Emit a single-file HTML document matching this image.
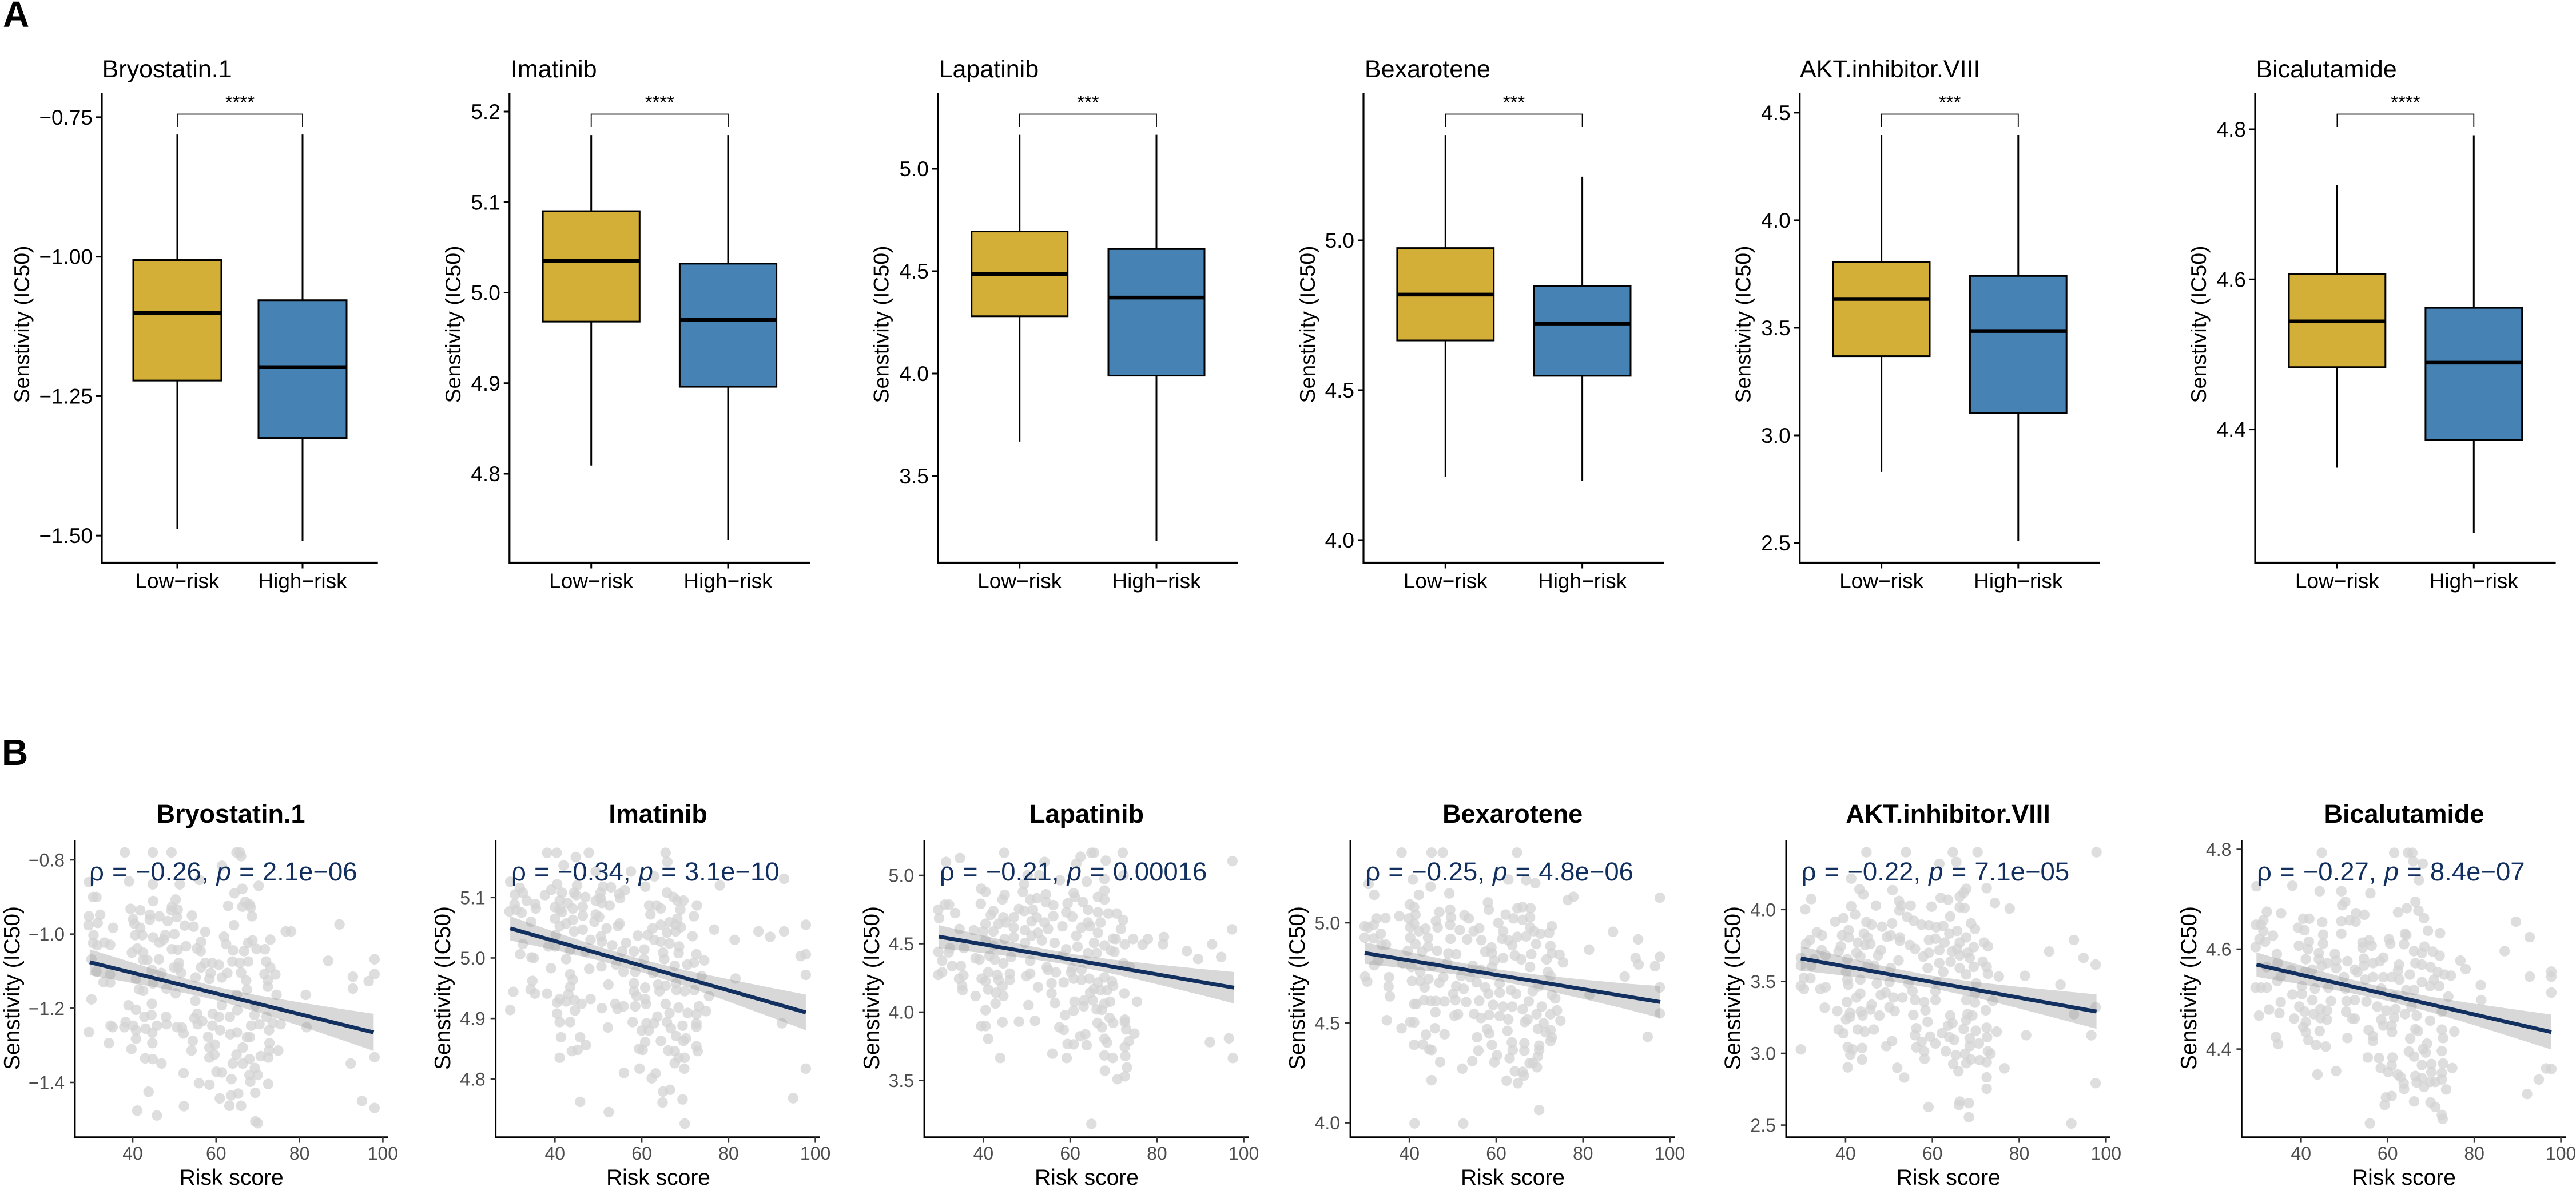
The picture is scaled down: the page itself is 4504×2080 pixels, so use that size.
<!DOCTYPE html>
<html lang="en">
<head>
<meta charset="utf-8">
<title>Drug sensitivity by risk group</title>
<style>
html,body{margin:0;padding:0;background:#fff}
svg{display:block}
text{font-family:"Liberation Sans",sans-serif}
.ptitle{font-size:43px;fill:#000}
.ytA{font-size:37.5px;fill:#000;text-anchor:middle}
.stars{font-size:33px;fill:#000;text-anchor:middle}
.btitle{font-size:45px;font-weight:bold;fill:#000;text-anchor:middle}
.ytB{font-size:39px;fill:#000;text-anchor:middle}
.xtB{font-size:39px;fill:#000;text-anchor:middle}
.anno{font-size:45.5px;fill:#12305f;word-spacing:1.5px}
.anno tspan{font-style:italic}
.letter{font-size:64px;font-weight:bold;fill:#000}
</style>
</head>
<body>
<svg id="figure" xmlns="http://www.w3.org/2000/svg" width="4504" height="2080" viewBox="0 0 4504 2080">
<rect width="4504" height="2080" fill="#fff"/>
<g id="marks"></g>
<g id="static-text">
<text class="letter" x="5" y="47">A</text>
<text class="letter" x="3" y="1337">B</text>

<text class="ptitle" x="178.6" y="135">Bryostatin.1</text>
<text class="ptitle" x="893" y="135">Imatinib</text>
<text class="ptitle" x="1641.6" y="135">Lapatinib</text>
<text class="ptitle" x="2386" y="135">Bexarotene</text>
<text class="ptitle" x="3147" y="135">AKT.inhibitor.VIII</text>
<text class="ptitle" x="3944.5" y="135">Bicalutamide</text>

<text class="ytA" transform="translate(51,567) rotate(-90)">Senstivity (IC50)</text>
<text class="ytA" transform="translate(805,567) rotate(-90)">Senstivity (IC50)</text>
<text class="ytA" transform="translate(1553.7,567) rotate(-90)">Senstivity (IC50)</text>
<text class="ytA" transform="translate(2299,567) rotate(-90)">Senstivity (IC50)</text>
<text class="ytA" transform="translate(3060.5,567) rotate(-90)">Senstivity (IC50)</text>
<text class="ytA" transform="translate(3857,567) rotate(-90)">Senstivity (IC50)</text>

<text class="stars" x="419.5" y="190">****</text>
<text class="stars" x="1153.4" y="190">****</text>
<text class="stars" x="1902.4" y="190">***</text>
<text class="stars" x="2647" y="190">***</text>
<text class="stars" x="3409.2" y="190">***</text>
<text class="stars" x="4205.9" y="190">****</text>

<text class="btitle" x="403.5" y="1438">Bryostatin.1</text>
<text class="btitle" x="1150.6" y="1438">Imatinib</text>
<text class="btitle" x="1900" y="1438">Lapatinib</text>
<text class="btitle" x="2644.7" y="1438">Bexarotene</text>
<text class="btitle" x="3406" y="1438">AKT.inhibitor.VIII</text>
<text class="btitle" x="4203.5" y="1438">Bicalutamide</text>

<text class="ytB" transform="translate(34,1727) rotate(-90)">Senstivity (IC50)</text>
<text class="ytB" transform="translate(787,1727) rotate(-90)">Senstivity (IC50)</text>
<text class="ytB" transform="translate(1537,1727) rotate(-90)">Senstivity (IC50)</text>
<text class="ytB" transform="translate(2281,1727) rotate(-90)">Senstivity (IC50)</text>
<text class="ytB" transform="translate(3042.5,1727) rotate(-90)">Senstivity (IC50)</text>
<text class="ytB" transform="translate(3840,1727) rotate(-90)">Senstivity (IC50)</text>

<text class="xtB" x="404.7" y="2071">Risk score</text>
<text class="xtB" x="1151" y="2071">Risk score</text>
<text class="xtB" x="1900" y="2071">Risk score</text>
<text class="xtB" x="2645" y="2071">Risk score</text>
<text class="xtB" x="3406.8" y="2071">Risk score</text>
<text class="xtB" x="4203" y="2071">Risk score</text>

<text class="anno" x="156" y="1539">ρ = −0.26, <tspan>p</tspan> = 2.1e−06</text>
<text class="anno" x="894" y="1539">ρ = −0.34, <tspan>p</tspan> = 3.1e−10</text>
<text class="anno" x="1643" y="1539">ρ = −0.21, <tspan>p</tspan> = 0.00016</text>
<text class="anno" x="2387.4" y="1539">ρ = −0.25, <tspan>p</tspan> = 4.8e−06</text>
<text class="anno" x="3149.6" y="1539">ρ = −0.22, <tspan>p</tspan> = 7.1e−05</text>
<text class="anno" x="3946" y="1539">ρ = −0.27, <tspan>p</tspan> = 8.4e−07</text>
</g>
</svg>
<script>
// ---- Box plot data: [min, q1, median, q3, max] ----
const boxCategories = ['Low−risk', 'High−risk'];
const bryostatinLow = [-1.488, -1.222, -1.101, -1.006, -0.781];
const bryostatinHigh = [-1.509, -1.325, -1.198, -1.078, -0.781];
const imatinibLow = [4.809, 4.968, 5.035, 5.090, 5.174];
const imatinibHigh = [4.727, 4.896, 4.970, 5.032, 5.174];
const lapatinibLow = [3.668, 4.280, 4.486, 4.694, 5.166];
const lapatinibHigh = [3.184, 3.990, 4.371, 4.608, 5.166];
const bexaroteneLow = [4.211, 4.666, 4.819, 4.974, 5.351];
const bexaroteneHigh = [4.197, 4.548, 4.722, 4.847, 5.212];
const aktLow = [2.830, 3.368, 3.634, 3.806, 4.396];
const aktHigh = [2.508, 3.103, 3.485, 3.741, 4.396];
const bicalutamideLow = [4.349, 4.483, 4.544, 4.607, 4.726];
const bicalutamideHigh = [4.262, 4.386, 4.489, 4.562, 4.792];

// ---- Tick labels ----
const bryostatinBoxTicks = ['−0.75', '−1.00', '−1.25', '−1.50'];
const imatinibBoxTicks = ['5.2', '5.1', '5.0', '4.9', '4.8'];
const lapatinibBoxTicks = ['5.0', '4.5', '4.0', '3.5'];
const bexaroteneBoxTicks = ['5.0', '4.5', '4.0'];
const aktBoxTicks = ['4.5', '4.0', '3.5', '3.0', '2.5'];
const bicalutamideBoxTicks = ['4.8', '4.6', '4.4'];
const riskTicks = ['40', '60', '80', '100'];
const bryostatinScatterTicks = ['−0.8', '−1.0', '−1.2', '−1.4'];
const imatinibScatterTicks = ['5.1', '5.0', '4.9', '4.8'];
const lapatinibScatterTicks = ['5.0', '4.5', '4.0', '3.5'];
const bexaroteneScatterTicks = ['5.0', '4.5', '4.0'];
const aktScatterTicks = ['4.0', '3.5', '3.0', '2.5'];
const bicalutamideScatterTicks = ['4.8', '4.6', '4.4'];

// ---- Regression fits: value at first and last band station; band half-widths at stations ----
const bandRisk = [29.7, 40, 50, 60, 70, 80, 90, 97.8];
const bryostatinFit = [-1.076, -1.265];
const bryostatinBand = [.035, .0276, .0205, .018, .0225, .0316, .0416, .05];
const imatinibFit = [5.049, 4.910];
const imatinibBand = [.020, .015, .0115, .0106, .013, .0185, .0245, .0295];
const lapatinibFit = [4.552, 4.178];
const lapatinibBand = [.084, .064, .047, .041, .052, .072, .095, .115];
const bexaroteneFit = [4.849, 4.604];
const bexaroteneBand = [.054, .042, .032, .028, .035, .048, .064, .08];
const aktFit = [3.66, 3.29];
const aktBand = [.085, .065, .048, .043, .054, .075, .1, .12];
const bicalutamideFit = [4.569, 4.434];
const bicalutamideBand = [.0245, .019, .014, .0125, .0155, .0215, .029, .035];

// ---- Scatter points: [risk score, IC50] ----
const bryostatinPoints = [[38.1,-.78],[44.8,-.78],[49.3,-.78],[64.9,-.78],[65.7,-.78],[66,-.79],[29.5,-.86],[39.1,-.858],[44.8,-.866],[51.3,-.866],[56,-.854],[61.4,-.816],[70.2,-.87],[66.3,-.878],[64.4,-.89],[30.5,-.9],[31.3,-.9],[44.9,-.911],[50.3,-.907],[62.9,-.924],[67,-.913],[66.3,-.926],[68,-.92],[68.3,-.928],[68.6,-.952],[39.5,-.932],[41.8,-.936],[49.4,-.926],[50.8,-.934],[49.3,-.936],[32.2,-.948],[29.5,-.952],[29.4,-.976],[31.6,-.97],[35.3,-.983],[40.1,-.96],[40.4,-.972],[44.1,-.948],[44.1,-.961],[46.4,-.952],[48.4,-.965],[50.6,-.954],[52.5,-.977],[54.6,-.98],[54.2,-.95],[64.3,-.976],[89.6,-.974],[76.7,-.993],[78,-.993],[30.6,-1.003],[30.5,-1.024],[31.5,-1.03],[33.2,-1.023],[34.6,-1.029],[40.6,-1.003],[41.8,-.983],[42.3,-1.003],[44.9,-1.009],[47.8,-1.003],[47.4,-1.015],[46.4,-1.023],[50,-1],[57.4,-.994],[61.9,-1.007],[62.4,-1.027],[68.7,-1.017],[67.7,-1.024],[73,-1.015],[71.7,-1.041],[86.9,-1.072],[98,-1.068],[98,-1.108],[92.8,-1.115],[96.6,-1.127],[92.8,-1.147],[81.5,-1.164],[81.7,-1.251],[98,-1.332],[92.3,-1.349],[95,-1.45],[98,-1.469],[39.8,-1.05],[41.1,-1.039],[42.5,-1.05],[49.4,-1.041],[50.8,-1.042],[52.8,-1.033],[55.4,-1.039],[56.4,-1.021],[56.3,-1.046],[64.1,-1.044],[66.7,-1.046],[69.7,-1.04],[30.1,-1.068],[42.5,-1.07],[43.5,-1.07],[46.3,-1.068],[51.1,-1.078],[57.4,-1.078],[59.1,-1.078],[60.7,-1.083],[63.9,-1.074],[65.7,-1.078],[67.7,-1.074],[72,-1.074],[73,-1.09],[31.3,-1.101],[34.6,-1.109],[40.8,-1.121],[44.6,-1.097],[46.9,-1.105],[49.9,-1.09],[50.9,-1.09],[51.6,-1.105],[56.4,-1.09],[58.7,-1.105],[62.7,-1.105],[66,-1.104],[71.6,-1.108],[74.2,-1.109],[72.4,-1.125],[33,-1.13],[34.6,-1.131],[41.5,-1.149],[42.5,-1.153],[44.8,-1.133],[48.1,-1.147],[50.3,-1.16],[55.1,-1.117],[58.4,-1.121],[61.4,-1.117],[67.2,-1.125],[67.4,-1.15],[72.4,-1.142],[74.5,-1.164],[30.1,-1.176],[39,-1.192],[40.8,-1.204],[44.6,-1.188],[55,-1.18],[61.4,-1.192],[65,-1.164],[65.1,-1.205],[69.4,-1.192],[42.8,-1.223],[44.5,-1.218],[48,-1.223],[55.5,-1.215],[54.8,-1.227],[59.2,-1.215],[60.7,-1.223],[63.3,-1.223],[69.2,-1.218],[72.1,-1.223],[73.6,-1.239],[75.5,-1.243],[34.7,-1.247],[35.2,-1.251],[38.3,-1.237],[38,-1.251],[40.1,-1.247],[40.8,-1.259],[43.1,-1.255],[45.8,-1.247],[48.1,-1.243],[50.6,-1.251],[51.8,-1.252],[55.6,-1.243],[56.7,-1.235],[59.1,-1.247],[61,-1.259],[68.4,-1.247],[70.4,-1.243],[72.7,-1.259],[29.5,-1.264],[44.7,-1.266],[52.2,-1.268],[63.4,-1.27],[65,-1.265],[67.4,-1.278],[68.1,-1.278],[34.3,-1.294],[40.8,-1.282],[44.7,-1.294],[54.4,-1.288],[58.1,-1.277],[59.7,-1.298],[72.8,-1.294],[74.9,-1.314],[39.7,-1.31],[54.1,-1.314],[58.4,-1.306],[66.4,-1.306],[72.7,-1.314],[43,-1.335],[44.8,-1.337],[46.9,-1.349],[58.4,-1.333],[59.6,-1.325],[64.9,-1.325],[68,-1.337],[70.7,-1.329],[72.5,-1.333],[64,-1.349],[66.4,-1.349],[69.3,-1.361],[52.2,-1.375],[60.1,-1.371],[61.4,-1.373],[63.7,-1.391],[68,-1.38],[70,-1.38],[68.2,-1.398],[72.5,-1.404],[55.9,-1.402],[58.4,-1.406],[43.8,-1.425],[69.4,-1.428],[63.6,-1.435],[60.9,-1.443],[65.3,-1.43],[63.2,-1.463],[66,-1.463],[52.3,-1.464],[41.1,-1.476],[45.8,-1.489],[69.4,-1.505],[70,-1.51]];

const imatinibPoints = [[38.2,5.174],[40.4,5.174],[47.8,5.174],[65.5,5.174],[44.8,5.167],[65.9,5.159],[42,5.153],[57.5,5.143],[49.4,5.143],[62.9,5.135],[29.7,5.126],[92.8,5.131],[40.5,5.122],[45.1,5.12],[51.1,5.118],[52.9,5.117],[60.8,5.118],[78,5.12],[31.9,5.116],[32.6,5.108],[30.8,5.105],[33.5,5.095],[30.7,5.089],[29.5,5.077],[31.1,5.08],[32.3,5.075],[35.5,5.089],[35.6,5.082],[34.5,5.06],[37.7,5.104],[39.2,5.113],[41.6,5.108],[44.4,5.108],[44.9,5.104],[47,5.101],[50.5,5.108],[50.5,5.099],[49.4,5.095],[50.8,5.091],[52.6,5.087],[54.8,5.106],[56.1,5.112],[55,5.099],[46.4,5.085],[41.1,5.095],[40,5.084],[41.1,5.08],[42.9,5.091],[44.1,5.082],[41.6,5.076],[46.4,5.07],[40,5.065],[44.1,5.063],[49.4,5.072],[50.2,5.068],[49.1,5.06],[41.1,5.053],[42.6,5.057],[46.4,5.047],[44.4,5.044],[40.2,5.038],[51.9,5.049],[50.6,5.036],[54.5,5.053],[54.9,5.057],[59.1,5.037],[61.4,5.038],[62.5,5.049],[61.7,5.087],[63.4,5.087],[62,5.072],[64.4,5.082],[64.4,5.055],[65.8,5.108],[67.3,5.101],[68.2,5.095],[69.6,5.095],[68.9,5.08],[72.7,5.087],[72,5.069],[68.2,5.065],[66.4,5.059],[67.8,5.055],[69,5.051],[67.8,5.044],[65.8,5.042],[71.7,5.036],[76.7,5.047],[86.9,5.044],[89.6,5.035],[92.8,5.044],[97.8,5.055],[81.4,5.03],[96.6,5.003],[97.8,5.006],[97.8,4.972],[81.6,4.966],[62.9,5.03],[64.4,5.027],[66.4,5.024],[68.6,5.019],[56.4,5.025],[53.2,5.021],[50.8,5.027],[48.2,5.03],[38.5,5.019],[40,5.019],[32.6,5.023],[32,5.006],[34.6,5.001],[35.1,5],[43.5,5.013],[47,5.011],[55.5,5.011],[58.2,5.011],[60.6,5.014],[64.9,5.009],[68.5,5.008],[72.6,5.006],[42.6,4.998],[47.9,4.982],[50.7,4.986],[54.1,4.989],[60.5,4.998],[65.2,4.998],[74.4,4.996],[72,4.992],[70.5,4.989],[67.6,4.987],[39.1,4.983],[55.8,4.977],[58.5,4.977],[62.6,4.975],[73.8,4.97],[43.5,4.973],[44.1,4.964],[34.8,4.962],[52.3,4.956],[67.9,4.958],[63.8,4.956],[58.2,4.958],[60.8,4.951],[65.5,4.954],[34.4,4.948],[43.5,4.952],[30.4,4.944],[35.4,4.941],[38.2,4.941],[58.2,4.945],[64.1,4.945],[68,4.947],[69.9,4.945],[72.1,4.947],[75.5,4.937],[43.1,4.94],[48.2,4.932],[41.1,4.932],[44.5,4.93],[42.6,4.928],[58.8,4.937],[60.8,4.932],[40.5,4.926],[46.1,4.924],[53.9,4.924],[65.5,4.924],[73.2,4.92],[44.6,4.913],[29.7,4.914],[50.8,4.917],[54.4,4.916],[55.8,4.92],[58.5,4.92],[61,4.924],[68.5,4.918],[74.8,4.912],[66.4,4.909],[70.6,4.909],[72.6,4.907],[40.5,4.908],[63.6,4.903],[41.1,4.894],[43.5,4.894],[57.9,4.894],[61.1,4.892],[62.8,4.892],[65.8,4.894],[69.4,4.888],[72.6,4.892],[52.2,4.885],[66.7,4.884],[60,4.88],[61.6,4.88],[72.6,4.886],[67.9,4.871],[70.2,4.867],[69.6,4.863],[64.4,4.863],[60.8,4.861],[41.4,4.869],[45.8,4.869],[47.1,4.856],[59.4,4.85],[60.2,4.848],[72.6,4.854],[72.9,4.846],[66.1,4.847],[67.6,4.846],[43.9,4.846],[45.2,4.848],[41.1,4.835],[68.5,4.835],[69.9,4.835],[67.6,4.826],[59.5,4.817],[69.8,4.817],[97.8,4.817],[55.9,4.81],[63.2,4.809],[62.3,4.801],[64.9,4.779],[66.5,4.782],[69.4,4.766],[94.9,4.768],[64.8,4.761],[45.8,4.762],[52.4,4.745],[69.9,4.726],[92.3,4.892]];

const lapatinibPoints = [[44.8,5.165],[64.9,5.165],[65.5,5.165],[72.1,5.165],[34.6,5.126],[31.4,5.098],[62.4,5.136],[68.2,5.107],[61.4,5.085],[54.1,5.098],[97.4,5.104],[50.2,5],[52.9,5],[57.6,4.964],[63.8,4.954],[67.9,4.973],[72.3,5],[49.4,4.936],[67.9,4.889],[39.5,4.902],[40.5,4.879],[49.1,4.879],[60.8,4.87],[44.9,4.857],[44.4,4.823],[50.8,4.823],[52.3,4.833],[54.4,4.861],[54.4,4.805],[61.1,4.842],[66.4,4.842],[67.9,4.823],[62.9,4.805],[39.4,4.792],[56.1,4.782],[59.4,4.795],[29.6,4.749],[31.1,4.786],[32.1,4.786],[33.5,4.724],[29.8,4.687],[42.3,4.739],[41.7,4.711],[48.2,4.754],[49.4,4.739],[51.4,4.749],[59.1,4.73],[64.1,4.749],[66.4,4.73],[68.8,4.721],[70.7,4.721],[72.2,4.674],[44.6,4.693],[47,4.693],[52.3,4.693],[56.1,4.702],[60.5,4.698],[40.5,4.646],[43.5,4.646],[45.2,4.655],[51.1,4.664],[54.1,4.655],[64.1,4.655],[67,4.655],[47,4.618],[54.9,4.608],[58.2,4.627],[62.6,4.618],[64.6,4.627],[71.7,4.608],[34.5,4.608],[37.8,4.599],[39.9,4.59],[42.3,4.59],[49.6,4.599],[52.6,4.58],[66.4,4.58],[61.4,4.558],[51.1,4.558],[47,4.547],[44.9,4.534],[40.5,4.524],[69.9,4.537],[70.5,4.534],[74.5,4.534],[77.9,4.534],[81.6,4.549],[81.4,4.496],[72.6,4.496],[76.7,4.493],[65.5,4.506],[53.5,4.524],[56.4,4.506],[49.6,4.506],[42.3,4.487],[35.5,4.468],[32.3,4.468],[29.6,4.44],[32,4.436],[61.7,4.478],[67.9,4.487],[69.4,4.45],[59.1,4.459],[70.2,4.44],[86.9,4.446],[92.7,4.496],[89.5,4.388],[94.8,4.403],[30.5,4.375],[38.2,4.393],[39.1,4.384],[41.4,4.412],[42.6,4.384],[46.4,4.403],[66.1,4.431],[64.1,4.431],[50.8,4.375],[44.6,4.356],[58.2,4.412],[32.8,4.337],[34.8,4.337],[54.6,4.328],[54.9,4.309],[56.7,4.291],[60.5,4.319],[62.6,4.309],[72.3,4.356],[73.8,4.328],[29.6,4.272],[30.5,4.291],[35.4,4.268],[41.1,4.291],[43.2,4.272],[46.1,4.281],[49.9,4.263],[50.8,4.281],[60.2,4.291],[67.9,4.253],[34.4,4.244],[39.6,4.244],[40.5,4.225],[43.5,4.235],[46.1,4.235],[60.8,4.244],[62.6,4.235],[64.4,4.244],[69.6,4.225],[58.5,4.216],[55.7,4.21],[35.1,4.192],[66.4,4.216],[69.9,4.192],[44.4,4.188],[35.2,4.16],[41.1,4.165],[52.6,4.182],[65.5,4.169],[67,4.16],[42.9,4.141],[68.5,4.16],[64.6,4.141],[55.7,4.136],[72.5,4.136],[38.2,4.117],[44.6,4.117],[63.2,4.085],[65.2,4.085],[61,4.076],[69.2,4.076],[75.4,4.076],[42.8,4.063],[50.4,4.051],[56.5,4.066],[63.1,4.042],[67.9,4.061],[40.5,4.014],[66.1,4.02],[60.8,4.01],[67.3,4.016],[58.8,3.978],[69.1,3.958],[72.6,3.945],[72.6,3.926],[39.5,3.898],[40.5,3.898],[44.4,3.926],[48.2,3.93],[51.9,3.936],[69.9,3.921],[66.3,3.921],[67.3,3.889],[57.5,3.889],[58.5,3.87],[72.9,3.874],[74.8,3.842],[41.1,3.805],[62.3,3.823],[63.5,3.838],[67.9,3.805],[68.5,3.777],[73.5,3.786],[92.2,3.78],[96.6,3.808],[59.4,3.767],[60.8,3.764],[63.8,3.758],[72.6,3.745],[55.9,3.696],[43.9,3.664],[59.2,3.664],[67.9,3.683],[69.8,3.664],[72.7,3.679],[97.5,3.664],[68,3.571],[73.1,3.595],[72.6,3.53],[70.9,3.509],[64.9,3.182],[97.3,4.605]];

const bexarotenePoints = [[38.2,5.351],[45.1,5.351],[47.7,5.351],[64.8,5.351],[30.6,5.194],[40.8,5.216],[44.9,5.181],[62.8,5.216],[66.9,5.213],[69,5.198],[31.9,5.14],[42.2,5.14],[49.2,5.147],[76.5,5.114],[77.8,5.13],[97.7,5.126],[58.1,5.102],[58.3,5.066],[40.1,5.092],[41.1,5.079],[46.9,5.054],[49.4,5.066],[49.6,5.028],[64.9,5.073],[66.1,5.079],[67.9,5.073],[37.7,5.034],[39.9,5.022],[41.4,5.041],[34.5,5.024],[32.4,5.022],[46.1,5.009],[52.7,5.038],[53.7,5.022],[62.2,5.041],[64,5.022],[66.1,5.015],[67.8,5.028],[29.7,4.983],[30.5,4.977],[31.8,4.99],[41.1,4.996],[49.4,4.99],[60.5,5],[72.8,4.983],[46.5,4.977],[40.2,4.977],[43.7,4.971],[42.2,4.958],[56.1,4.973],[51.6,4.964],[54.8,4.958],[61.6,4.958],[67.8,4.977],[68.7,4.958],[70.2,4.945],[72.2,4.949],[86.9,4.955],[64.9,4.93],[33.4,4.945],[29.7,4.926],[31.8,4.922],[40.2,4.926],[44.3,4.926],[49.5,4.92],[53.3,4.917],[56.6,4.913],[61.4,4.92],[66.9,4.932],[62.8,4.913],[92.7,4.917],[33.6,4.891],[34.6,4.891],[41.4,4.894],[44.3,4.881],[63.7,4.888],[69.2,4.894],[72.5,4.884],[58.9,4.877],[81.4,4.866],[39.6,4.86],[46.4,4.86],[42.9,4.856],[57.5,4.856],[49,4.847],[50.8,4.843],[59,4.849],[64.3,4.837],[68.1,4.843],[72.8,4.847],[74.6,4.84],[97.7,4.83],[92.1,4.824],[92.8,4.792],[96.6,4.783],[59.6,4.811],[61.6,4.824],[65.8,4.817],[71.6,4.817],[75.4,4.802],[38.4,4.798],[40.5,4.779],[31.9,4.788],[32.8,4.811],[45.2,4.785],[48.7,4.798],[54.6,4.785],[56.4,4.766],[59,4.779],[67.8,4.779],[29.8,4.731],[30.3,4.706],[35.3,4.728],[35.2,4.681],[42.5,4.754],[40.6,4.709],[42.5,4.709],[44.4,4.719],[47.8,4.728],[46.9,4.7],[51.9,4.734],[54,4.728],[55.5,4.702],[57.5,4.677],[60.8,4.696],[71.9,4.754],[72.5,4.734],[89.6,4.731],[97.7,4.677],[69.7,4.681],[63.4,4.664],[64.6,4.645],[68.4,4.658],[50.8,4.683],[52.5,4.67],[50.1,4.645],[43.5,4.677],[35.5,4.632],[58.2,4.645],[60.8,4.651],[72.8,4.639],[73.6,4.622],[81.5,4.641],[43.4,4.613],[44.9,4.609],[46.1,4.609],[48.1,4.607],[50.6,4.613],[53.1,4.604],[56.1,4.61],[41.1,4.594],[41.6,4.594],[59.3,4.59],[61.6,4.581],[63.7,4.581],[66.1,4.568],[67.5,4.607],[70.5,4.581],[74,4.562],[72.5,4.543],[46,4.553],[54.9,4.545],[58.4,4.54],[50.4,4.536],[51.2,4.543],[69.3,4.543],[60.8,4.534],[56.5,4.524],[62.8,4.517],[67.2,4.517],[74.8,4.511],[34.8,4.513],[97.7,4.547],[70.9,4.498],[66.6,4.504],[40.2,4.504],[41.1,4.502],[38.2,4.473],[45.9,4.473],[57.9,4.469],[69.6,4.47],[72.5,4.464],[62.6,4.46],[58.4,4.447],[48.1,4.443],[43.8,4.441],[71.4,4.453],[55.6,4.428],[72.8,4.428],[94.9,4.43],[72.5,4.409],[63.6,4.402],[66.5,4.398],[41.1,4.39],[43.1,4.392],[59,4.39],[69.9,4.386],[44.6,4.367],[45.1,4.364],[55.9,4.361],[63.8,4.364],[66.5,4.361],[69.9,4.364],[60.2,4.338],[63.1,4.323],[69.6,4.332],[47.1,4.304],[54.5,4.309],[59.6,4.303],[67.7,4.298],[68.4,4.3],[69.4,4.278],[52.2,4.271],[64.3,4.258],[66.1,4.255],[66.4,4.236],[45.1,4.213],[62.4,4.211],[65,4.198],[69.9,4.064],[41.2,3.997],[52.4,3.996]];

const aktPoints = [[44.8,4.399],[53.9,4.399],[64.7,4.399],[70.4,4.399],[97.8,4.399],[65.5,4.331],[61.6,4.318],[41.3,4.215],[43.2,4.141],[44.1,4.105],[50.8,4.135],[72.5,4.149],[67.8,4.144],[67.2,4.117],[66.3,4.091],[61.9,4.082],[63.6,4.068],[32.1,4.073],[74.4,4.046],[52.3,4.06],[52.8,4.028],[30.7,4.002],[41.3,4.023],[47,4.028],[55,4.028],[59.8,4.02],[66.3,4.016],[67.4,4.011],[77.8,4.007],[52.4,3.993],[42.2,3.966],[64.1,3.952],[54.2,3.948],[55.7,3.922],[37.6,3.916],[39.5,3.94],[44.8,3.913],[46,3.895],[57.5,3.895],[59.2,3.891],[62.5,3.886],[60.9,3.877],[68.9,3.904],[69.8,3.865],[48.4,3.881],[50.7,3.904],[40.7,3.856],[33.4,3.842],[34.6,3.82],[39.2,3.82],[40.7,3.806],[44.2,3.833],[45.1,3.806],[49.5,3.81],[50.4,3.82],[52.5,3.806],[59.2,3.788],[60.7,3.797],[65.7,3.851],[63.9,3.833],[67.8,3.806],[92.6,3.788],[31.8,3.788],[30.9,3.762],[42.8,3.77],[44.5,3.753],[45.7,3.762],[52.5,3.783],[38.9,3.744],[62.8,3.77],[66.3,3.77],[71.9,3.77],[72.8,3.744],[54.8,3.753],[69.5,3.738],[86.9,3.708],[56,3.726],[61.6,3.717],[64.5,3.708],[65.7,3.726],[34.5,3.717],[38.4,3.708],[42.5,3.699],[48.1,3.717],[94.8,3.664],[97.6,3.617],[29.7,3.664],[35.4,3.681],[43.4,3.673],[47.5,3.681],[57.9,3.673],[59.2,3.699],[66.3,3.681],[68.6,3.664],[68.1,3.699],[52.2,3.646],[32.8,3.655],[40.4,3.655],[45.1,3.619],[46.6,3.61],[61.6,3.628],[64.2,3.637],[71.6,3.637],[29.7,3.61],[32.1,3.61],[72.5,3.601],[66.3,3.593],[69.5,3.601],[58.9,3.593],[50.4,3.593],[40.1,3.566],[62.5,3.566],[72.8,3.553],[75.3,3.534],[81.3,3.539],[67.8,3.548],[30.4,3.525],[31.9,3.521],[40.4,3.512],[43.4,3.512],[50.1,3.495],[54.5,3.486],[61,3.495],[70.1,3.486],[29.7,3.468],[30.4,3.447],[34.2,3.447],[35.4,3.459],[40.6,3.477],[47.2,3.486],[89.5,3.477],[55.4,3.432],[60.7,3.432],[69.8,3.415],[48.1,3.406],[49.2,3.423],[42.5,3.388],[43.4,3.415],[51,3.388],[53.1,3.388],[56,3.37],[60.7,3.37],[73.9,3.365],[40.3,3.356],[46,3.338],[58.1,3.356],[67.8,3.37],[69.8,3.352],[35.2,3.317],[50.1,3.32],[97.6,3.32],[38.1,3.294],[51.3,3.294],[58.4,3.299],[72.3,3.299],[41,3.281],[43.5,3.29],[45.7,3.304],[43.9,3.263],[47.8,3.263],[55.6,3.267],[64.1,3.263],[68.1,3.272],[69.2,3.263],[92.6,3.272],[40.1,3.237],[41,3.254],[67.8,3.231],[58.9,3.219],[64.6,3.21],[63.6,3.192],[67.2,3.169],[38.4,3.165],[42.8,3.165],[46.5,3.165],[56.3,3.174],[72.5,3.178],[74.8,3.151],[44.4,3.151],[39.5,3.139],[56,3.126],[70,3.157],[62.2,3.139],[63.9,3.112],[81.6,3.126],[96.6,3.125],[59.5,3.116],[72.6,3.112],[68.6,3.103],[50.7,3.085],[57.5,3.08],[60.7,3.068],[65,3.094],[70.7,3.068],[40.5,3.044],[41.6,3.027],[43.8,3.037],[29.7,3.027],[49.4,3.05],[56.3,3.041],[58.1,3.014],[68.6,3.05],[63.1,3.014],[72.8,3.014],[73.4,2.996],[41.1,2.991],[65.4,2.988],[67.5,2.996],[43.8,2.956],[58.2,2.961],[68.9,2.957],[70.9,2.952],[64.8,2.925],[67.8,2.931],[72.5,2.938],[40.5,2.902],[51.9,2.899],[76.6,2.895],[66,2.875],[53.5,2.831],[72.5,2.833],[72.5,2.753],[97.6,2.792],[66.3,2.664],[66.1,2.64],[68.4,2.653],[59.1,2.626],[68.4,2.555],[92,2.511]];

const bicalutamidePoints = [[44.8,4.793],[61.5,4.793],[64.7,4.793],[65.7,4.793],[65.9,4.776],[68.1,4.771],[67.2,4.738],[29.7,4.726],[38,4.727],[44.3,4.716],[49.3,4.716],[56,4.712],[66.4,4.695],[50.2,4.695],[49.5,4.688],[64.4,4.682],[62.4,4.674],[67.1,4.677],[32.1,4.675],[35.4,4.672],[52.7,4.672],[54.6,4.669],[68.4,4.662],[29.6,4.649],[31.3,4.658],[40.5,4.661],[41.9,4.661],[49.3,4.656],[51.2,4.658],[52.6,4.655],[44.9,4.654],[39.3,4.643],[30.7,4.649],[31.3,4.636],[40.8,4.638],[89.6,4.655],[69.3,4.637],[72.1,4.632],[64,4.631],[64.3,4.628],[49.3,4.631],[45.1,4.629],[33.5,4.627],[31.7,4.615],[30.4,4.62],[92.8,4.624],[60.3,4.62],[60.6,4.611],[41.8,4.615],[45.1,4.611],[63.8,4.61],[55.7,4.618],[54.2,4.613],[56.3,4.607],[54.2,4.603],[29.5,4.604],[39.5,4.607],[41.6,4.6],[68.5,4.605],[70.4,4.595],[66.1,4.596],[67.9,4.592],[87,4.596],[34.4,4.59],[44.1,4.592],[47.8,4.59],[72,4.587],[41.1,4.58],[44.1,4.58],[46.1,4.572],[48.1,4.577],[50.7,4.576],[54.5,4.581],[59,4.583],[58.2,4.576],[66.4,4.572],[67.9,4.569],[76.8,4.577],[78,4.56],[34.6,4.572],[32,4.564],[44.8,4.567],[48.1,4.562],[54.5,4.567],[56.6,4.572],[62.6,4.569],[69.9,4.564],[37.7,4.558],[40.8,4.554],[42.6,4.559],[52.4,4.559],[53,4.554],[62.4,4.557],[65.1,4.549],[71.6,4.554],[73.1,4.549],[74.6,4.547],[92.8,4.545],[97.8,4.555],[97.8,4.545],[56.6,4.544],[59,4.544],[60.9,4.544],[62.7,4.539],[35.3,4.545],[34.5,4.536],[49.9,4.544],[54.8,4.539],[70.7,4.539],[67.9,4.534],[29.5,4.523],[30.7,4.523],[32.1,4.523],[40.2,4.526],[43.2,4.521],[46.3,4.523],[50.2,4.521],[58.5,4.521],[64.3,4.518],[69.8,4.526],[71.9,4.526],[81.5,4.528],[97.8,4.513],[38,4.509],[40.2,4.51],[66.1,4.518],[74,4.505],[61.5,4.505],[42.6,4.498],[35.3,4.494],[46.9,4.496],[50.5,4.496],[52.4,4.498],[55.1,4.495],[81.6,4.498],[32.6,4.479],[35,4.472],[39.6,4.485],[40.8,4.475],[44.5,4.48],[46,4.477],[57.6,4.485],[59.7,4.477],[61.8,4.48],[65.5,4.485],[30.3,4.467],[38.4,4.461],[42.9,4.47],[44.5,4.462],[50.4,4.475],[51.8,4.461],[52.4,4.461],[61.5,4.463],[64,4.47],[66.7,4.467],[69.8,4.457],[72.5,4.475],[58.5,4.459],[41.1,4.454],[46,4.459],[40.5,4.444],[59,4.447],[60.9,4.447],[66.4,4.44],[72.5,4.439],[75.4,4.435],[44.3,4.436],[55.6,4.438],[61,4.434],[41.1,4.434],[67,4.436],[56.6,4.426],[72.8,4.422],[34.2,4.424],[41.7,4.418],[50.7,4.422],[56.6,4.416],[65.2,4.421],[34.7,4.41],[43.5,4.408],[45.7,4.405],[69.1,4.411],[68.2,4.4],[64.9,4.395],[72.5,4.396],[68.8,4.393],[66.1,4.385],[55.4,4.383],[58,4.382],[61.1,4.383],[70.1,4.37],[67.9,4.368],[60.9,4.367],[72.8,4.371],[74.9,4.362],[70.1,4.354],[58.4,4.362],[60.1,4.354],[48.1,4.356],[96.6,4.361],[97.8,4.36],[43.8,4.349],[72.5,4.352],[62.3,4.349],[63,4.344],[66.4,4.346],[94.9,4.339],[67.9,4.342],[72.5,4.339],[66.7,4.333],[69.8,4.334],[71,4.334],[63.7,4.331],[68.4,4.324],[63.8,4.32],[73.5,4.319],[59.6,4.303],[60.9,4.306],[92.2,4.31],[66.1,4.295],[69.9,4.293],[59.3,4.288],[71,4.284],[72.5,4.268],[72.7,4.26],[55.9,4.251]];

// ---- Layout (pixels only, separate from the data) ----
const SVGNS = 'http://www.w3.org/2000/svg';
const root = document.getElementById('marks');
const BOX_TOP = 163, BOX_BOTTOM = 983.5, SC_TOP = 1468, SC_BOTTOM = 1987.6;

function make(tag, parent) {
  const e = document.createElementNS(SVGNS, tag);
  parent.appendChild(e);
  return e;
}
function setAll(e, props) {
  for (const k in props) e.setAttribute(k, props[k]);
  return e;
}
function tickValue(label) {
  return parseFloat(label.replace('−', '-'));
}
function linear(v0, p0, v1, p1) {
  return function (v) { return p0 + (v - v0) * (p1 - p0) / (v1 - v0); };
}

const boxPanels = [
  {key:'bryostatin', low:bryostatinLow, high:bryostatinHigh, ticks:bryostatinBoxTicks, axisX:178, endX:660.7, c1:310, c2:529, half:77, v0:-0.75, p0:204.9, v1:-1.5, p1:936.2},
  {key:'imatinib', low:imatinibLow, high:imatinibHigh, ticks:imatinibBoxTicks, axisX:890.8, endX:1416, c1:1033.7, c2:1273, half:84.6, v0:5.2, p0:195, v1:4.8, p1:828},
  {key:'lapatinib', low:lapatinibLow, high:lapatinibHigh, ticks:lapatinibBoxTicks, axisX:1639.8, endX:2165, c1:1782.7, c2:2022, half:84, v0:5.0, p0:295, v1:3.5, p1:832},
  {key:'bexarotene', low:bexaroteneLow, high:bexaroteneHigh, ticks:bexaroteneBoxTicks, axisX:2384, endX:2909.5, c1:2527.3, c2:2766.6, half:84.4, v0:5.0, p0:420, v1:4.0, p1:944},
  {key:'akt-inhibitor', low:aktLow, high:aktHigh, ticks:aktBoxTicks, axisX:3146.7, endX:3671.7, c1:3289.6, c2:3528.8, half:84.4, v0:4.5, p0:196.9, v1:2.5, p1:949},
  {key:'bicalutamide', low:bicalutamideLow, high:bicalutamideHigh, ticks:bicalutamideBoxTicks, axisX:3943, endX:4468.6, c1:4086.4, c2:4325.3, half:84.4, v0:4.8, p0:226, v1:4.4, p1:750.6}
];

const scatterPanels = [
  {key:'bryostatin', points:bryostatinPoints, fit:bryostatinFit, band:bryostatinBand, ticks:bryostatinScatterTicks, axisX:131, endX:678.6, x40:232, x100:669.4, v0:-0.8, p0:1503, v1:-1.4, p1:1892},
  {key:'imatinib', points:imatinibPoints, fit:imatinibFit, band:imatinibBand, ticks:imatinibScatterTicks, axisX:866.7, endX:1434, x40:970.3, x100:1425.6, v0:5.1, p0:1568.8, v1:4.8, p1:1885.8},
  {key:'lapatinib', points:lapatinibPoints, fit:lapatinibFit, band:lapatinibBand, ticks:lapatinibScatterTicks, axisX:1616, endX:2183, x40:1719.4, x100:2174.6, v0:5.0, p0:1530, v1:3.5, p1:1888.5},
  {key:'bexarotene', points:bexarotenePoints, fit:bexaroteneFit, band:bexaroteneBand, ticks:bexaroteneScatterTicks, axisX:2361, endX:2928, x40:2464.2, x100:2919.6, v0:5.0, p0:1613, v1:4.0, p1:1962.6},
  {key:'akt-inhibitor', points:aktPoints, fit:aktFit, band:aktBand, ticks:aktScatterTicks, axisX:3122.9, endX:3690, x40:3226.9, x100:3682.3, v0:4.0, p0:1589.8, v1:2.5, p1:1966.6},
  {key:'bicalutamide', points:bicalutamidePoints, fit:bicalutamideFit, band:bicalutamideBand, ticks:bicalutamideScatterTicks, axisX:3919.4, endX:4486.4, x40:4023.3, x100:4477.6, v0:4.8, p0:1484.5, v1:4.4, p1:1833.6}
];

function drawBox(panel) {
  const g = make('g', root);
  
  
  const y = linear(panel.v0, panel.p0, panel.v1, panel.p1);
  const groups = [
    {stats:panel.low, cx:panel.c1, fill:'#d4af37', label:boxCategories[0], id:'low-risk'},
    {stats:panel.high, cx:panel.c2, fill:'#4682b4', label:boxCategories[1], id:'high-risk'}
  ];
  groups.forEach(function (b) {
    const whisker = make('line', g);
    setAll(whisker, {x1:b.cx, x2:b.cx, y1:y(b.stats[4]), y2:y(b.stats[0]), stroke:'#000', 'stroke-width':3});
    
    
    const rect = make('rect', g);
    setAll(rect, {x:b.cx - panel.half, width:2 * panel.half, y:y(b.stats[3]), height:y(b.stats[1]) - y(b.stats[3]), fill:b.fill, stroke:'#000', 'stroke-width':3});
    
    
    const median = make('line', g);
    setAll(median, {x1:b.cx - panel.half, x2:b.cx + panel.half, y1:y(b.stats[2]), y2:y(b.stats[2]), stroke:'#000', 'stroke-width':6.5});
    
    
    const tick = make('line', g);
    setAll(tick, {x1:b.cx, x2:b.cx, y1:BOX_BOTTOM, y2:BOX_BOTTOM + 10, stroke:'#000', 'stroke-width':3});
    
    
    const label = make('text', g);
    setAll(label, {x:b.cx, y:1028, 'text-anchor':'middle', 'font-size':37, fill:'#000'});
    label.textContent = b.label;
    
    
  });
  const axes = make('path', g);
  setAll(axes, {d:'M' + panel.axisX + ' ' + BOX_TOP + 'V' + BOX_BOTTOM + 'H' + panel.endX, fill:'none', stroke:'#000', 'stroke-width':3.2});
  
  
  panel.ticks.forEach(function (t) {
    const py = y(tickValue(t));
    const tick = make('line', g);
    setAll(tick, {x1:panel.axisX - 10, x2:panel.axisX, y1:py, y2:py, stroke:'#000', 'stroke-width':3});
    
    
    const label = make('text', g);
    setAll(label, {x:panel.axisX - 16, y:py + 13, 'text-anchor':'end', 'font-size':37, fill:'#000'});
    label.textContent = t;
    
    
  });
  const bracket = make('path', g);
  setAll(bracket, {d:'M' + panel.c1 + ' 222V199.5H' + panel.c2 + 'V222', fill:'none', stroke:'#000', 'stroke-width':1.8});
  
  
}

function drawScatter(panel) {
  const g = make('g', root);
  
  
  const x = linear(40, panel.x40, 100, panel.x100);
  const y = linear(panel.v0, panel.p0, panel.v1, panel.p1);
  panel.points.forEach(function (pt) {
    const dot = make('circle', g);
    setAll(dot, {cx:x(pt[0]), cy:y(pt[1]), r:9.2, fill:'#d3d3d3', 'fill-opacity':0.75});
    
    
  });
  const first = bandRisk[0], last = bandRisk[bandRisk.length - 1];
  const fitAt = linear(first, panel.fit[0], last, panel.fit[1]);
  const upper = bandRisk.map(function (r, i) { return x(r) + ',' + y(fitAt(r) + panel.band[i]); });
  const lower = bandRisk.map(function (r, i) { return x(r) + ',' + y(fitAt(r) - panel.band[i]); }).reverse();
  const ribbon = make('polygon', g);
  setAll(ribbon, {points:upper.concat(lower).join(' '), fill:'#999999', 'fill-opacity':0.38});
  
  
  const line = make('line', g);
  setAll(line, {x1:x(first), y1:y(panel.fit[0]), x2:x(last), y2:y(panel.fit[1]), stroke:'#12305f', 'stroke-width':6.8});
  
  
  const axes = make('path', g);
  setAll(axes, {d:'M' + panel.axisX + ' ' + SC_TOP + 'V' + SC_BOTTOM + 'H' + panel.endX, fill:'none', stroke:'#000', 'stroke-width':2.8});
  
  
  panel.ticks.forEach(function (t) {
    const py = y(tickValue(t));
    const tick = make('line', g);
    setAll(tick, {x1:panel.axisX - 9, x2:panel.axisX, y1:py, y2:py, stroke:'#333', 'stroke-width':2.6});
    
    
    const label = make('text', g);
    setAll(label, {x:panel.axisX - 18, y:py + 11.5, 'text-anchor':'end', 'font-size':32, fill:'#4d4d4d'});
    label.textContent = t;
    
    
  });
  riskTicks.forEach(function (t) {
    const px = x(tickValue(t));
    const tick = make('line', g);
    setAll(tick, {x1:px, x2:px, y1:SC_BOTTOM, y2:SC_BOTTOM + 9, stroke:'#333', 'stroke-width':2.6});
    
    
    const label = make('text', g);
    setAll(label, {x:px, y:2027, 'text-anchor':'middle', 'font-size':32, fill:'#4d4d4d'});
    label.textContent = t;
    
    
  });
}

boxPanels.forEach(drawBox);
scatterPanels.forEach(drawScatter);
</script>
</body>
</html>
